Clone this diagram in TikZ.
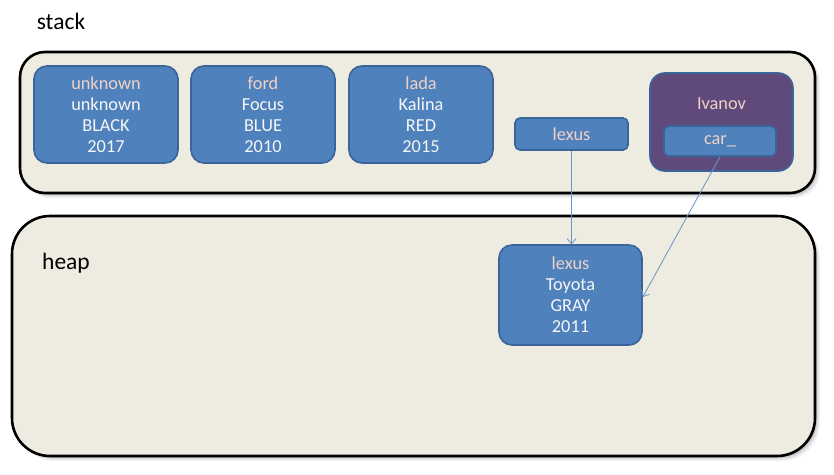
\documentclass[tikz,border=0pt]{standalone}
\usepackage{fontspec}
\setmainfont{Carlito}
\usetikzlibrary{arrows.meta}
\definecolor{boxfill}{HTML}{4F81BD}
\definecolor{boxline}{HTML}{3A659A}
\definecolor{purplefill}{HTML}{604A7B}
\definecolor{contfill}{HTML}{EEECE1}
\definecolor{nametext}{HTML}{F0D2C4}
\definecolor{bodytext}{HTML}{F6F6F6}
\tikzset{
  container/.style={draw=black, line width=2.6pt, fill=contfill},
  carbox/.style={draw=boxline, line width=1.6pt, fill=boxfill, rounded corners=13pt,
    minimum width=144pt, minimum height=97pt, inner sep=0pt,
    text=bodytext, font=\fontsize{18.3pt}{21pt}\selectfont, align=center},
  refbox/.style={draw=boxline, line width=1.6pt, fill=boxfill, rounded corners=5pt,
    inner sep=0pt, text=nametext, font=\fontsize{18.3pt}{21pt}\selectfont},
  personbox/.style={draw=boxline, line width=1.6pt, fill=purplefill, rounded corners=15pt,
    minimum width=143pt, minimum height=98pt, inner sep=0pt},
  label/.style={font=\fontsize{23.5pt}{26pt}\selectfont, text=black},
  ptr/.style={draw=boxfill!85!white, line width=0.8pt, -{Straight Barb[length=5pt,width=9pt]}},
}
\begin{document}
\begin{tikzpicture}[x=1pt,y=-1pt]
\useasboundingbox (0,0) rectangle (834,474);
\fill[white] (0,0) rectangle (834,474);
% shadows
\foreach \d/\o in {2/0.12,3.5/0.08,5/0.05}{
  \fill[black, opacity=\o, rounded corners=25pt] (20+\d,52+\d) rectangle (815+\d,193+\d);
  \fill[black, opacity=\o, rounded corners=38pt] (12+\d,216+\d) rectangle (815+\d,456+\d);
}
% containers
\draw[container, rounded corners=25pt] (20,52) rectangle (815,193);
\draw[container, rounded corners=38pt] (12,216) rectangle (815,456);
\node[label] (stacklbl) at (61,21) {stack};
\node[label] (heaplbl) at (66,263) {heap};
% stack cars
\node[carbox] (unknown) at (106,114.5) {\textcolor{nametext}{unknown}\\unknown\\BLACK\\2017};
\node[carbox] (ford) at (263,114.5) {\textcolor{nametext}{ford}\\Focus\\BLUE\\2010};
\node[carbox] (lada) at (421,114.5) {\textcolor{nametext}{lada}\\Kalina\\RED\\2015};
\node[refbox, minimum width=113pt, minimum height=32pt] (lexusref) at (571.5,134) {lexus};
% person
\node[personbox] (ivanov) at (721.5,122) {};
\node[text=nametext, font=\fontsize{18.3pt}{21pt}\selectfont] (ivname) at (721.5,104) {Ivanov};
\node[refbox, minimum width=112pt, minimum height=30pt] (car) at (720,141) {car\_};
% heap car
\node[carbox, minimum width=143pt, minimum height=100pt] (lexus) at (570.5,295) {\textcolor{nametext}{lexus}\\Toyota\\GRAY\\2011};
% pointers
\draw[ptr] (lexusref.south) -- (lexusref.south |- lexus.north);
\draw[ptr] (car.south) -- ([yshift=-2pt]lexus.east);
\end{tikzpicture}
\end{document}
